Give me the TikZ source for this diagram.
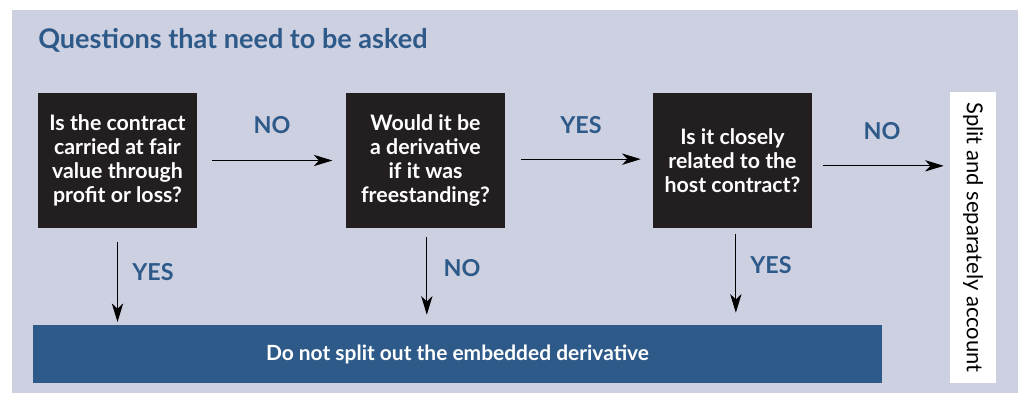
\documentclass[tikz,border=0pt]{standalone}
\usepackage{fontspec}
\setmainfont{Lato}
\usetikzlibrary{arrows.meta,positioning}

\definecolor{panelbg}{HTML}{CDD0E0}
\definecolor{navy}{HTML}{2E5A8A}
\definecolor{boxblack}{HTML}{231F20}

\begin{document}
\begin{tikzpicture}
  [x=0.75pt,y=-0.75pt,
   qbox/.style={fill=boxblack,text=white,font=\bfseries\fontsize{16}{18}\selectfont,
     align=center,inner sep=0pt,minimum width=119.25pt,minimum height=101.25pt},
   answer/.style={text=navy,font=\bfseries\fontsize{17.5}{20}\selectfont},
   flow/.style={-{Stealth[length=14pt,width=8.5pt,inset=4pt]},line width=0.8pt}]
  \useasboundingbox (0,0) rectangle (1018,393);
  \fill[panelbg] (12,10) rectangle (1018,393);

  \node[anchor=base west,inner sep=0pt,text=navy,font=\bfseries\fontsize{20.3}{24}\selectfont] (title) at (38,48) {Questions that need to be asked};

  \node[qbox] (b1) at (117.5,160.5) {Is the contract\\carried at fair\\value through\\profit or loss?};
  \node[qbox] (b2) at (425.5,160.5) {Would it be\\a derivative\\if it was\\freestanding?};
  \node[qbox] (b3) at (732.5,160.5) {Is it closely\\related to the\\host contract?};

  \node[fill=navy,text=white,font=\bfseries\fontsize{15.7}{18}\selectfont,inner sep=0pt,
    minimum width=636.75pt,minimum height=43.5pt] (keep) at (457.5,354) {Do not split out the embedded derivative};
  \node[fill=white,inner sep=0pt,minimum width=218.25pt,minimum height=34.5pt,rotate=-90,
    font=\fontsize{16.5}{18}\selectfont] (split) at (973,237.5) {Split and separately account};

  \draw[flow,shorten <=11pt,shorten >=10pt] (b1.east) -- (b2.west);
  \draw[flow,shorten <=12pt,shorten >=9pt] ([yshift=1pt]b2.east) -- ([yshift=1pt]b3.west);
  \draw[flow,shorten <=8pt,shorten >=4.5pt] ([yshift=-4pt]b3.east) -- ([yshift=-4pt]b3.east -| split.south);

  \draw[flow,shorten <=10.5pt,shorten >=2pt] (b1.south) -- (b1.south |- keep.north);
  \draw[flow,shorten <=6.75pt,shorten >=7.5pt] ([xshift=1pt]b2.south) -- ([xshift=1pt]b2.south |- keep.north);
  \draw[flow,shorten <=4pt,shorten >=9pt] ([xshift=2.5pt]b3.south) -- ([xshift=2.5pt]b3.south |- keep.north);

  \node[answer] (no1) at (272,125) {NO};
  \node[answer] (yes2) at (581,125) {YES};
  \node[answer] (no3) at (882,131) {NO};
  \node[answer] (yes1) at (153,272) {YES};
  \node[answer] (no2) at (462,268) {NO};
  \node[answer] (yes3) at (771,265) {YES};
\end{tikzpicture}
\end{document}
